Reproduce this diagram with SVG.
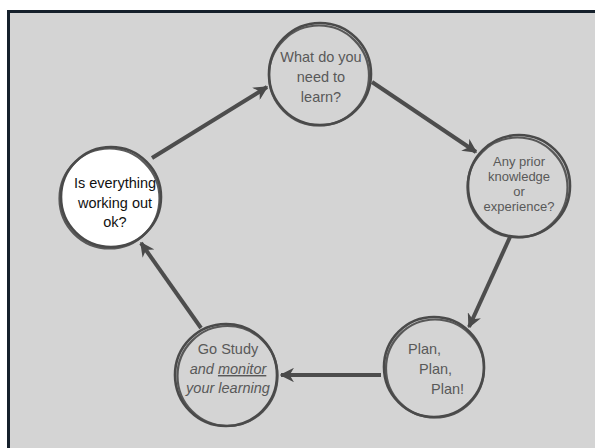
<svg xmlns="http://www.w3.org/2000/svg" width="595" height="448" viewBox="0 0 595 448">
  <defs>
    <marker id="head" viewBox="0 0 10 10" refX="9" refY="5" markerWidth="3.6" markerHeight="3.6" orient="auto" markerUnits="strokeWidth">
      <path d="M0,0 L10,5 L0,10 L3,5 Z" fill="#4a4a4a"/>
    </marker>
  </defs>
  <style>
    .ring { fill: none; stroke: #4a4a4a; stroke-width: 2.6; }
    .brush { fill: none; stroke: #4a4a4a; stroke-width: 2.2; opacity: 0.9; }
    .link { stroke: #4d4d4d; stroke-width: 4; fill: none; marker-end: url(#head); }
    .lbl { font-family: "Liberation Sans", Arial, sans-serif; font-size: 14.5px; fill: #595959; text-anchor: middle; }
    .small { font-size: 13px; }
    .left { text-anchor: start; }
    .dark { fill: #111111; }
  </style>

  <!-- page frame -->
  <rect x="0" y="0" width="595" height="448" fill="#ffffff"/>
  <rect x="8.5" y="11.5" width="600" height="450" fill="#d4d4d4" stroke="#15202b" stroke-width="3"/>

  <!-- connectors -->
  <g id="connectors">
    <line class="link" x1="152" y1="158" x2="267" y2="87"/>
    <line class="link" x1="372" y1="82" x2="476" y2="152"/>
    <line class="link" x1="510" y1="237" x2="469" y2="327"/>
    <line class="link" x1="381" y1="375" x2="281" y2="375"/>
    <line class="link" x1="201" y1="328" x2="141" y2="243"/>
  </g>

  <!-- top node -->
  <g id="node-learn">
    <circle class="ring" cx="320" cy="74" r="51"/>
    <circle class="brush" cx="319" cy="75.5" r="50"/>
    <text class="lbl" x="321" y="62">What do you</text>
    <text class="lbl" x="321" y="82">need to</text>
    <text class="lbl" x="321" y="102">learn?</text>
  </g>

  <!-- right node -->
  <g id="node-prior">
    <circle class="ring" cx="519" cy="186" r="51"/>
    <circle class="brush" cx="517.5" cy="187.5" r="50"/>
    <text class="lbl small" x="519" y="166">Any prior</text>
    <text class="lbl small" x="519" y="181">knowledge</text>
    <text class="lbl small" x="519" y="196">or</text>
    <text class="lbl small" x="519" y="211">experience?</text>
  </g>

  <!-- lower right node -->
  <g id="node-plan">
    <circle class="ring" cx="434" cy="367" r="50"/>
    <circle class="brush" cx="435" cy="368.5" r="49"/>
    <text class="lbl left" x="408" y="354">Plan,</text>
    <text class="lbl left" x="419" y="374">Plan,</text>
    <text class="lbl left" x="431" y="394">Plan!</text>
  </g>

  <!-- lower left node -->
  <g id="node-study">
    <circle class="ring" cx="226" cy="375" r="51"/>
    <circle class="brush" cx="227.5" cy="376" r="50"/>
    <text class="lbl" x="228" y="354">Go Study</text>
    <text class="lbl" x="228" y="374" font-style="italic">and <tspan text-decoration="underline">monitor</tspan></text>
    <text class="lbl" x="228" y="393" font-style="italic">your learning</text>
  </g>

  <!-- left node -->
  <g id="node-check">
    <circle cx="111" cy="197" r="50" fill="#ffffff" stroke="#4a4a4a" stroke-width="2.6"/>
    <circle class="brush" cx="109.5" cy="198.5" r="50"/>
    <text class="lbl dark" x="115" y="188">Is everything</text>
    <text class="lbl dark" x="115" y="208">working out</text>
    <text class="lbl dark" x="115" y="227">ok?</text>
  </g>
</svg>
